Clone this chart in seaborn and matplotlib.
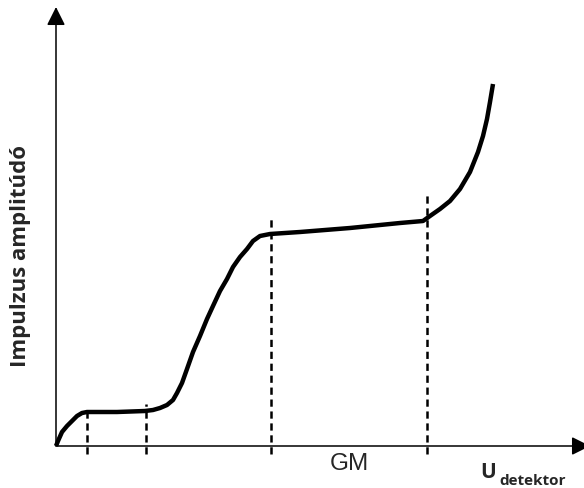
import matplotlib
matplotlib.use("Agg")
import matplotlib.pyplot as plt
import seaborn as sns
import pandas as pd

# Curve (detector voltage vs. pulse amplitude)
voltage = [0, 2, 6, 11, 16, 21, 26, 31, 61, 89, 97, 104, 111, 117, 121,
           126, 131, 137, 144, 151, 157, 164, 171, 177, 184, 191, 197,
           204, 214, 244, 294, 344, 367, 374, 384, 394, 404, 414, 422,
           427, 431, 434, 437]
amplitude = [0, 5, 14, 20, 25, 30, 33, 34, 34, 35, 36, 38, 41, 46, 53,
             63, 77, 94, 110, 127, 140, 155, 167, 179, 189, 197, 205,
             210, 212, 214, 218, 223, 225, 230, 237, 245, 257, 274, 294,
             310, 327, 344, 362]

# Region boundaries (dashed lines) and their upper ends
boundaries = [31, 90, 215, 371]
boundary_tops = [37, 42, 227, 254]

region_label = "GM"
x_label_main = "U"
x_label_sub = "detektor"
y_label = "Impulzus amplitúdó"

W, H = 584, 489
fig = plt.figure(figsize=(W / 100, H / 100), dpi=100)
sns.set_style("white")
plt.rcParams["lines.scale_dashes"] = False

ax = fig.add_axes([56 / W, (H - 447) / H, (W - 56) / W, (447 - 8) / H])
ax.set_xlim(0, 528)
ax.set_ylim(0, 439)
ax.axis("off")

df = pd.DataFrame({"U": voltage, "A": amplitude})
sns.lineplot(data=df, x="U", y="A", ax=ax, color="black", linewidth=3.2,
             sort=False, estimator=None,
             solid_joinstyle="round", solid_capstyle="butt", clip_on=False)

ax.vlines(boundaries, -8, boundary_tops, colors="black", linewidth=1.8,
          linestyles=(0, (5.2, 3.4)), clip_on=False)

# axes with arrows
arrow_style = dict(arrowstyle="-|>,head_length=0.8,head_width=0.4",
                   lw=1.1, color="black", mutation_scale=14,
                   shrinkA=0, shrinkB=0)
ax.annotate("", xy=(0, 439), xytext=(0, 0), arrowprops=arrow_style,
            annotation_clip=False)
ax.annotate("", xy=(534, 0), xytext=(0, 0), arrowprops=arrow_style,
            annotation_clip=False)

fig.text(349 / W, 1 - 464 / H, region_label, fontsize=17.5,
         family="Liberation Sans", ha="center", va="center")
fig.text(480 / W, 1 - 478 / H, x_label_main, fontsize=15,
         family="Open Sans", fontweight="bold", ha="left", va="baseline")
fig.text(499 / W, 1 - 485 / H, x_label_sub, fontsize=11,
         family="Open Sans", fontweight="bold", ha="left", va="baseline")
fig.text(21 / W, 1 - 256 / H, y_label, fontsize=16, rotation=90,
         family="Open Sans", fontweight="bold", ha="center", va="center")

fig.savefig("out.png", dpi=100, facecolor="white")
